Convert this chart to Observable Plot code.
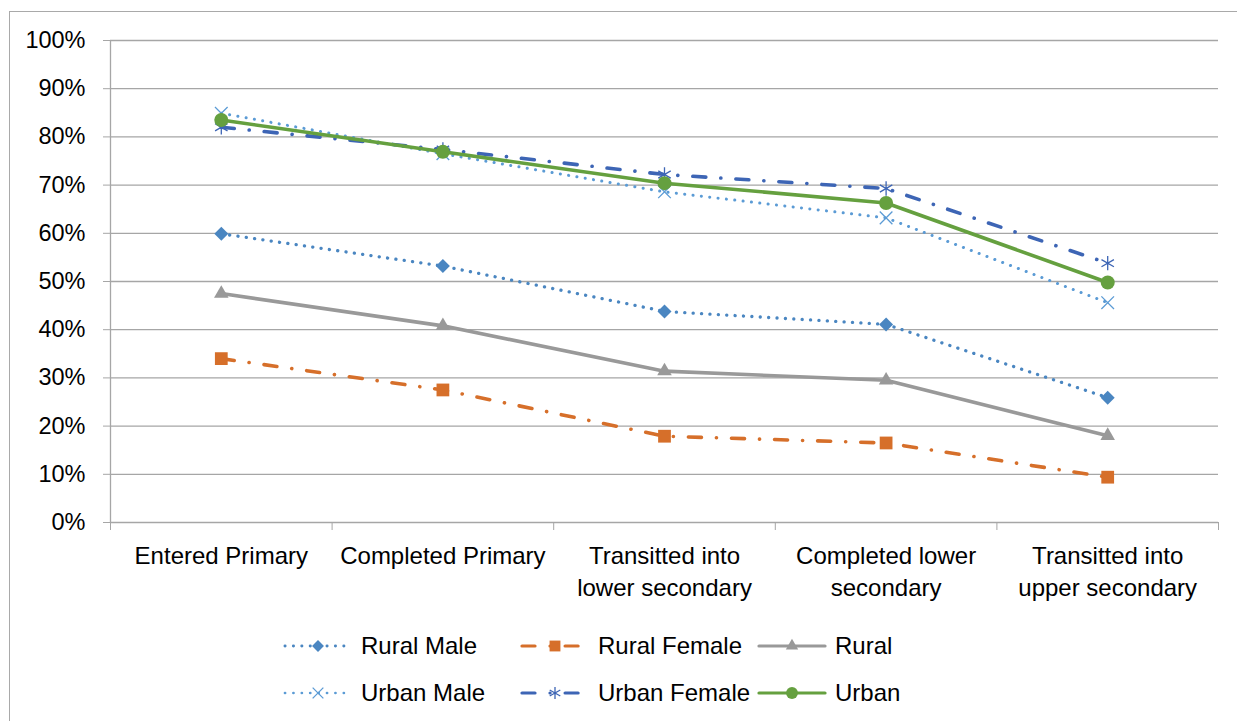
<!DOCTYPE html>
<html>
<head>
<meta charset="utf-8">
<script src="https://cdn.jsdelivr.net/npm/d3@7"></script>
<script src="https://cdn.jsdelivr.net/npm/@observablehq/plot@0.6"></script>
<style>
  html, body { margin: 0; padding: 0; background: #fff; overflow: hidden; width: 1237px; height: 721px; }
  #frame { position: absolute; left: 9px; top: 11px; width: 1400px; height: 900px;
           border-left: 1.5px solid #a9a9a9; border-top: 1.5px solid #a9a9a9; }
  #chart { position: absolute; left: 0; top: 0; }
  #legend { position: absolute; left: 283px; top: 622px; display: grid;
            grid-template-columns: 237px 237px 237px; grid-auto-rows: 47px;
            font-family: "Liberation Sans", Arial, sans-serif; font-size: 24px; color: #000; }
  .item { display: flex; align-items: center; }
  .item svg { flex: none; margin-right: 8px; }
</style>
</head>
<body>
<div id="frame"></div>
<div id="chart"></div>
<div id="legend"></div>
<script>
// ---- data ----
const categories = ["Entered Primary", "Completed Primary", "Transitted into lower secondary", "Completed lower secondary", "Transitted into upper secondary"];
const tickLabels = ["Entered Primary", "Completed Primary", "Transitted into\nlower secondary", "Completed lower\nsecondary", "Transitted into\nupper secondary"];
const yTicks = [0, 10, 20, 30, 40, 50, 60, 70, 80, 90, 100];

const seriesNames = ["Rural Male", "Rural Female", "Rural", "Urban Male", "Urban Female", "Urban"];
const ruralMale   = [59.9, 53.2, 43.8, 41.1, 25.9];
const ruralFemale = [34.0, 27.5, 17.9, 16.5, 9.4];
const rural       = [47.5, 40.8, 31.4, 29.5, 18.0];
const urbanMale   = [84.9, 76.5, 68.6, 63.2, 45.6];
const urbanFemale = [82.0, 77.4, 72.2, 69.3, 53.8];
const urban       = [83.5, 76.9, 70.4, 66.3, 49.8];
const seriesValues = [ruralMale, ruralFemale, rural, urbanMale, urbanFemale, urban];

const seriesColors = ["#4a86c1", "#d66f2a", "#999999", "#5b9bd5", "#3d65b5", "#65a03f"];
const seriesDash = ["0.1 8.3", "13 15 0.1 15", null, "0.1 8.3", "13 15 0.1 15", null];
const seriesWidth = [3.3, 3.6, 3.6, 3.0, 3.6, 3.6];
const seriesSymbol = ["diamond2", "square", "triangle", "times", "asterisk", "circle"];
const seriesR = [6.3, 7.2, 5.4, 5.8, 6.8, 7];
const symbolStroked = [false, false, false, true, true, false];

// ---- table ----
const rows = [];
seriesNames.forEach((s, k) => seriesValues[k].forEach((v, i) => rows.push({series: s, k, i, cat: categories[i], v})));

const gridColor = "#a6a6a6";
const marks = [
  Plot.gridY(yTicks, {stroke: gridColor, strokeOpacity: 1, strokeWidth: 1.3}),
  Plot.ruleX([-0.5], {stroke: gridColor, strokeWidth: 1.3}),
  Plot.axisY(yTicks, {tickSize: 7, tickPadding: 18, stroke: gridColor, fill: "#000",
                      tickFormat: d => d + "%", label: null, fontSize: 23.5}),
  Plot.axisX([-0.5, 0.5, 1.5, 2.5, 3.5, 4.5], {tickSize: 8, stroke: gridColor, tickFormat: () => "", label: null}),
  Plot.axisX([0, 1, 2, 3, 4], {tickSize: 0, tickPadding: 18.5, fill: "#000", tickFormat: i => tickLabels[i],
                                label: null, fontSize: 24, lineHeight: 1.33})
];
seriesNames.forEach((s, k) => {
  const data = rows.filter(d => d.k === k);
  marks.push(Plot.line(data, {x: "i", y: "v", stroke: seriesColors[k], strokeWidth: seriesWidth[k],
    strokeDasharray: seriesDash[k], strokeLinecap: "round", strokeLinejoin: "round"}));
  marks.push(Plot.dot(data, symbolStroked[k]
    ? {x: "i", y: "v", symbol: seriesSymbol[k], r: seriesR[k], stroke: seriesColors[k], strokeWidth: 1.3, fill: "none"}
    : {x: "i", y: "v", symbol: seriesSymbol[k], r: seriesR[k], fill: seriesColors[k], stroke: "none"}));
});

const chart = Plot.plot({
  width: 1237,
  height: 620,
  marginLeft: 110,
  marginRight: 19,
  marginTop: 40,
  marginBottom: 98,
  style: {fontFamily: "Liberation Sans, Arial, sans-serif", fontSize: "24px", color: "#000", background: "transparent", overflow: "visible"},
  x: {type: "linear", domain: [-0.5, 4.5], axis: null},
  y: {domain: [0, 100], axis: null},
  marks
});
document.getElementById("chart").append(chart);

// ---- legend (HTML, built from the series arrays) ----
const legend = document.getElementById("legend");
const legendOrder = [0, 1, 2, 3, 4, 5];
const symMap = {diamond2: d3.symbolDiamond2, square: d3.symbolSquare, triangle: d3.symbolTriangle,
                times: d3.symbolTimes, asterisk: d3.symbolAsterisk, circle: d3.symbolCircle};
legendOrder.forEach(k => {
  const item = document.createElement("div");
  item.className = "item";
  const svg = d3.create("svg").attr("width", 70).attr("height", 24);
  svg.append("line").attr("x1", 2).attr("x2", 68).attr("y1", 12).attr("y2", 12)
    .attr("stroke", seriesColors[k]).attr("stroke-width", seriesWidth[k] * 0.9)
    .attr("stroke-dasharray", seriesDash[k]).attr("stroke-linecap", "round");
  const rr = seriesR[k] * 0.85;
  const path = svg.append("path").attr("transform", "translate(35,12)")
    .attr("d", d3.symbol(symMap[seriesSymbol[k]], rr * rr * Math.PI)());
  if (symbolStroked[k]) path.attr("fill", "none").attr("stroke", seriesColors[k]).attr("stroke-width", 1.3);
  else path.attr("fill", seriesColors[k]);
  item.append(svg.node());
  const label = document.createElement("span");
  label.textContent = seriesNames[k];
  item.append(label);
  legend.append(item);
});
</script>
</body>
</html>
